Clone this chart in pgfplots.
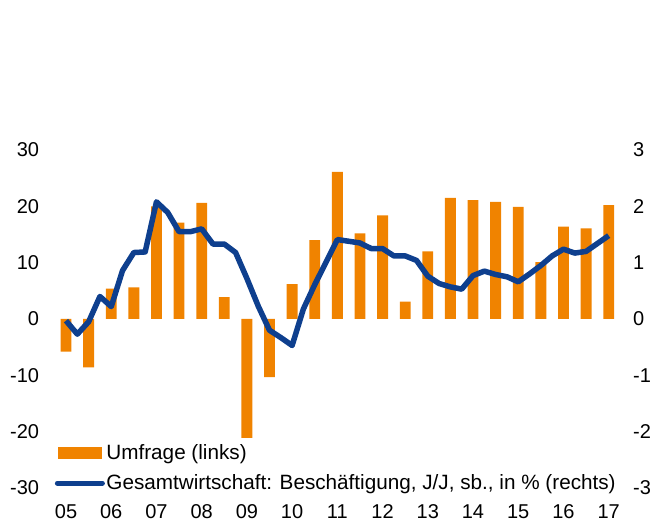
\documentclass[border=0pt]{standalone}
\usepackage{fontspec}
\setmainfont{Liberation Sans}
\usepackage{pgfplots}
\usepackage{pgfplotstable}
\pgfplotsset{compat=1.18}
\definecolor{barorange}{HTML}{F08300}
\definecolor{lineblue}{HTML}{0E3F8E}

\pgfplotstableread{
x v
2005.0 -5.8
2005.5 -8.6
2006.0 5.4
2006.5 5.6
2007.0 20.0
2007.5 17.1
2008.0 20.6
2008.5 3.9
2009.0 -21.1
2009.5 -10.3
2010.0 6.2
2010.5 14.0
2011.0 26.1
2011.5 15.2
2012.0 18.4
2012.5 3.1
2013.0 12.0
2013.5 21.5
2014.0 21.1
2014.5 20.8
2015.0 19.9
2015.5 10.1
2016.0 16.4
2016.5 16.1
2017.0 20.2
}\bars

\pgfplotstableread{
x v
2005.00 -0.03
2005.25 -0.27
2005.50 -0.05
2005.75 0.40
2006.00 0.22
2006.25 0.86
2006.50 1.18
2006.75 1.19
2007.00 2.08
2007.25 1.89
2007.50 1.55
2007.75 1.55
2008.00 1.60
2008.25 1.33
2008.50 1.33
2008.75 1.18
2009.00 0.72
2009.25 0.23
2009.50 -0.20
2009.75 -0.33
2010.00 -0.47
2010.25 0.18
2010.50 0.61
2010.75 1.01
2011.00 1.41
2011.25 1.38
2011.50 1.35
2011.75 1.25
2012.00 1.25
2012.25 1.12
2012.50 1.12
2012.75 1.04
2013.00 0.76
2013.25 0.63
2013.50 0.57
2013.75 0.53
2014.00 0.77
2014.25 0.85
2014.50 0.79
2014.75 0.75
2015.00 0.66
2015.25 0.80
2015.50 0.95
2015.75 1.12
2016.00 1.24
2016.25 1.17
2016.50 1.20
2016.75 1.34
2017.00 1.48
}\linedata

\pgfplotsset{
  common/.style={
    at={(0,0)}, anchor=south west,
    scale only axis, width=565.3bp, height=338bp,
    xmin=2004.75, xmax=2017.25,
    axis line style={draw=none},
    major tick length=0pt,
    tick style={draw=none},
    ticklabel style={font=\fontsize{20bp}{23bp}\selectfont, inner sep=0pt},
    clip=false,
  }
}

\begin{document}
\begin{tikzpicture}
\path[use as bounding box] (-54.7bp,-34bp) rectangle (602.3bp,488bp);
\begin{axis}[common,
  ymin=-30, ymax=30,
  ytick={-30,-20,-10,0,10,20,30},
  yticklabels={-30,-20,-10,0,10,20,30},
  ytick pos=left,
  yticklabel style={xshift=-15.4bp},
  xtick={2005,...,2017},
  xticklabels={05,06,07,08,09,10,11,12,13,14,15,16,17},
  xtick pos=bottom,
  xticklabel style={yshift=-16.5bp},
]
\addplot[ybar, bar width=0.24, fill=barorange, draw=none] table[x=x,y=v] {\bars};
\end{axis}
\begin{axis}[common,
  ymin=-3, ymax=3,
  ytick={-3,-2,-1,0,1,2,3},
  yticklabels={-3,-2,-1,0,1,2,3},
  ytick pos=right,
  yticklabel style={xshift=13bp},
  xtick=\empty,
  legend cell align=left,
  legend style={draw=none, fill=none, at={(0,0)}, anchor=south west,
    xshift=0bp, yshift=-5bp, inner sep=0pt, row sep=11bp,
    font=\fontsize{20.7bp}{23bp}\selectfont,
    nodes={inner sep=1.5bp}},
]
\addlegendimage{legend image code/.code={\fill[barorange] (3bp,-5.5bp) rectangle (46.4bp,5.5bp);}}
\addlegendentry{Umfrage (links)}
\addplot[lineblue, line width=5.5bp, line join=round,
  legend image code/.code={\draw[lineblue, line width=5bp, line cap=round] (2.5bp,0bp) -- (47.5bp,0bp);}]
  table[x=x,y=v] {\linedata};
\addlegendentry{Gesamtwirtschaft: Beschäftigung, J/J, sb., in \% (rechts)}
\end{axis}
\end{tikzpicture}
\end{document}
